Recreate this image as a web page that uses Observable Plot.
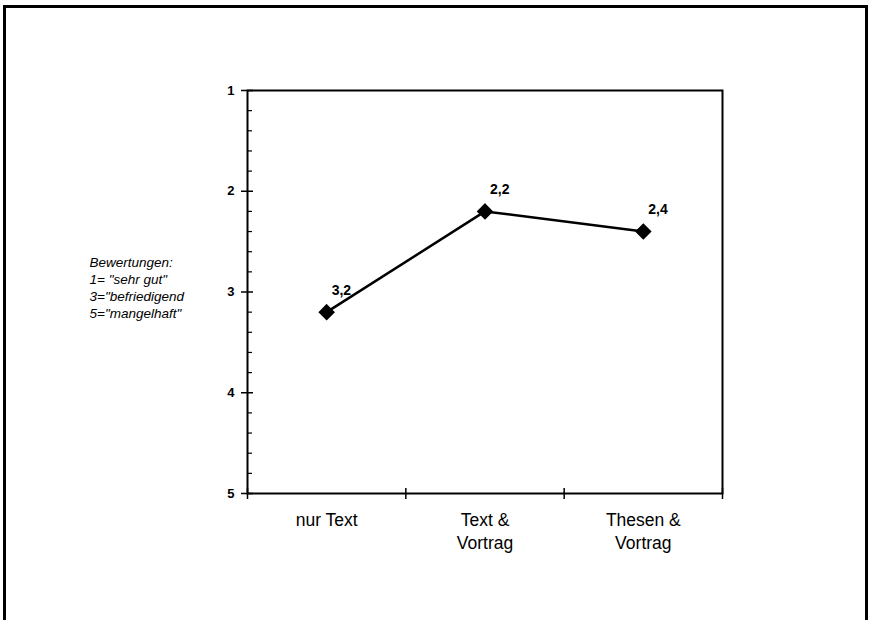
<!DOCTYPE html>
<html><head><meta charset="utf-8">
<script src="https://cdn.jsdelivr.net/npm/d3@7"></script>
<script src="https://cdn.jsdelivr.net/npm/@observablehq/plot@0.6"></script>
<style>
body{margin:0;background:#fff;}
#wrap{position:relative;width:871px;height:620px;overflow:hidden;font-family:"Liberation Sans",Arial,sans-serif;}
#border{position:absolute;left:3px;top:5px;width:865px;height:700px;border:3px solid #000;box-sizing:border-box;}
#wrap svg{position:absolute;left:0;top:0;}
</style></head><body><div id="wrap"><div id="border"></div></div>
<script>
const categories = ["nur Text", "Text & Vortrag", "Thesen & Vortrag"];
const categoryLabels = ["nur Text", "Text &\nVortrag", "Thesen &\nVortrag"];
const ratings = [3.2, 2.2, 2.4];
const yTicks = [1, 2, 3, 4, 5];
const yMinorTicks = [1.2, 1.4, 1.6, 1.8, 2.2, 2.4, 2.6, 2.8, 3.2, 3.4, 3.6, 3.8, 4.2, 4.4, 4.6, 4.8];
const xBoundaries = [0, 1, 2, 3];
const legendLines = ["Bewertungen:", "1= \"sehr gut\"", "3=\"befriedigend", "5=\"mangelhaft\""];

const W = 871, H = 620, mL = 247, mR = 149, mT = 90, mB = 127;
const plotW = W - mL - mR, plotH = H - mT - mB;
const data = categories.map((c, i) => ({i, c, x: i + 0.5, v: ratings[i]}));
const fmt = v => String(v).replace(".", ",");

const chart = Plot.plot({
  width: W, height: H,
  marginLeft: mL, marginRight: mR, marginTop: mT, marginBottom: mB,
  style: {fontFamily: "'Liberation Sans', Arial, sans-serif", color: "black", background: "transparent"},
  x: {domain: [0, 3], label: null},
  y: {domain: [1, 5], reverse: true, label: null},
  marks: [
    Plot.frame({stroke: "black", strokeWidth: 2}),
    Plot.ruleY(yTicks, {y: d => d, insetLeft: -6, insetRight: plotW - 6, stroke: "black", strokeWidth: 1.5}),
    Plot.ruleY(yMinorTicks, {y: d => d, insetRight: plotW - 5, stroke: "black", strokeWidth: 1.2}),
    Plot.ruleX(xBoundaries, {x: d => d, insetTop: plotH - 5, insetBottom: -6, stroke: "black", strokeWidth: 1.5}),
    Plot.axisY({ticks: yTicks, tickSize: 0, tickPadding: 13, tickFormat: d => String(d), label: null, fontWeight: "bold", fontSize: 13}),
    Plot.axisX({ticks: [0.5, 1.5, 2.5], tickSize: 0, tickPadding: 17, label: null, tickFormat: d => categoryLabels[Math.floor(d)], fontSize: 17.5, lineHeight: 1.27}),
    Plot.line(data, {x: "x", y: "v", stroke: "black", strokeWidth: 2.5}),
    Plot.dot(data, {x: "x", y: "v", symbol: "diamond2", r: 6.5, fill: "black", stroke: "black"}),
    Plot.text(data, {x: "x", y: "v", text: d => fmt(d.v), textAnchor: "start", dx: 5, dy: -22, fontWeight: "bold", fontSize: 14}),
    Plot.text([legendLines.join("\n")], {frameAnchor: "left", y: () => 2.95, text: d => d, textAnchor: "start", dx: -158, fontStyle: "italic", fontSize: 13.5, lineHeight: 1.25})
  ]
});
document.getElementById("wrap").appendChild(chart);
</script>
</body></html>
